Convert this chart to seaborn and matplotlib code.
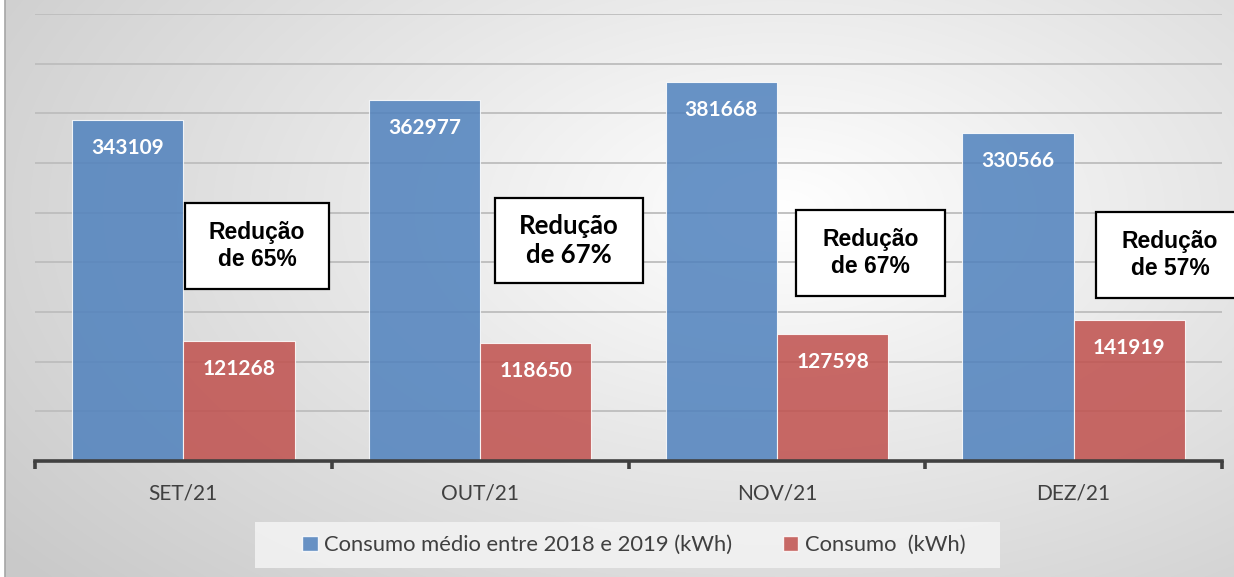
#!/usr/bin/env python3
"""
Consumo mensal vs consumo médio 2018-2019 (barras agrupadas)
"""

import numpy as np
import pandas as pd
import matplotlib.pyplot as plt
import seaborn as sns
from matplotlib.patches import Rectangle, Patch

# --- dados ---
meses = ['SET/21', 'OUT/21', 'NOV/21', 'DEZ/21']
consumo_medio = [343109, 362977, 381668, 330566]
consumo_atual = [121268, 118650, 127598, 141919]
reducoes = ['65%', '67%', '67%', '57%']
serie_medio = 'Consumo médio entre 2018 e 2019 (kWh)'
serie_atual = 'Consumo  (kWh)'

W, H = 1234, 577
DPI = 100


def fx(px):
    return px / W


def fy(py):
    return 1 - py / H


def main():
    sns.set_theme(style='white')
    plt.rcParams['font.family'] = ['Lato', 'DejaVu Sans']

    df = pd.DataFrame({
        'mes': meses * 2,
        'valor': consumo_medio + consumo_atual,
        'serie': [serie_medio] * len(meses) + [serie_atual] * len(meses),
    })

    fig = plt.figure(figsize=(W / DPI, H / DPI), dpi=DPI)

    # fundo com gradiente radial
    bg = fig.add_axes([0, 0, 1, 1], zorder=-10)
    xx, yy = np.meshgrid(np.arange(W), np.arange(H))
    r = np.sqrt(((xx - 780) / 980.0) ** 2 + ((yy - 210) / 560.0) ** 2)
    g = 1.0 - 0.21 * np.clip(r, 0, 1)
    img = np.dstack([g, g, g])
    img[:, :5, :] = 1.0
    bg.imshow(img, aspect='auto', extent=(0, W, H, 0), interpolation='bilinear')
    bg.plot([5, 5], [0, H], color='#a6a6a6', lw=1.2)
    bg.set_xlim(0, W)
    bg.set_ylim(H, 0)
    bg.axis('off')

    ax = fig.add_axes([fx(35), fy(461), fx(1222) - fx(35), fy(14) - fy(461)])
    ax.patch.set_alpha(0)

    for v in range(50000, 450001, 50000):
        ax.axhline(v, color='#bdbdbd', lw=1.3, zorder=0)

    sns.barplot(
        data=df, x='mes', y='valor', hue='serie',
        palette=['#4F81BD', '#C0504D'], saturation=1, width=0.75, alpha=0.85,
        edgecolor='white', linewidth=0.8, legend=False, ax=ax, zorder=2,
    )

    ax.set_xlim(-0.5, len(meses) - 0.5)
    ax.set_ylim(0, 450000)
    ax.set_xlabel('')
    ax.set_ylabel('')
    ax.set_yticks([])
    for s in ['top', 'right', 'left']:
        ax.spines[s].set_visible(False)
    ax.spines['bottom'].set_color('#404040')
    ax.spines['bottom'].set_linewidth(2.6)
    ax.spines['bottom'].set_zorder(3)

    ax.tick_params(axis='x', which='major', length=0, pad=16,
                   labelsize=15, labelcolor='#404040')
    ax.set_xticks(np.arange(-0.5, len(meses)), minor=True)
    ax.tick_params(axis='x', which='minor', length=6, width=2.6,
                   color='#404040', direction='out', bottom=True)

    # rótulos de valor dentro das barras
    for bar in ax.patches:
        h = bar.get_height()
        if h <= 0:
            continue
        ax.annotate(f'{int(round(h))}',
                    (bar.get_x() + bar.get_width() / 2, h),
                    xytext=(0, -28), textcoords='offset pixels',
                    ha='center', va='center', color='white',
                    fontsize=15, fontweight='bold', zorder=4)

    # caixas "Redução de XX%"
    caixas = [
        (185, 203, 329, 289, 'Liberation Sans', 16.5),
        (495, 198, 643, 283, 'Lato', 18.5),
        (796, 210, 945, 296, 'Liberation Sans', 16.5),
        (1096, 212, 1244, 298, 'Liberation Sans', 16.5),
    ]
    for (x0, y0, x1, y1, fam, fs), red in zip(caixas, reducoes):
        fig.patches.append(Rectangle((fx(x0), fy(y1)), fx(x1) - fx(x0),
                                     fy(y0) - fy(y1), transform=fig.transFigure,
                                     facecolor='white', edgecolor='black',
                                     lw=1.6, zorder=5))
        fig.text(fx((x0 + x1) / 2), fy((y0 + y1) / 2), f'Redução\nde {red}',
                 ha='center', va='center', fontsize=fs, fontweight='bold',
                 family=[fam, 'DejaVu Sans'], linespacing=1.25, zorder=6,
                 color='black')

    # legenda
    fig.patches.append(Rectangle((fx(255), fy(568)), fx(1000) - fx(255),
                                 fy(522) - fy(568), transform=fig.transFigure,
                                 facecolor='#f2f2f2', edgecolor='none',
                                 alpha=0.9, zorder=1))
    handles = [Patch(facecolor='#4F81BD', alpha=0.85, edgecolor='white', label=serie_medio),
               Patch(facecolor='#C0504D', alpha=0.85, edgecolor='white', label=serie_atual)]
    fig.legend(handles=handles, loc='center', bbox_to_anchor=(fx(634), fy(545)),
               ncol=2, frameon=False, fontsize=15.8, handlelength=0.7,
               handleheight=0.7, handletextpad=0.3, columnspacing=2.3,
               labelcolor='#404040')

    fig.savefig('out.png', dpi=DPI)
    plt.close(fig)


if __name__ == '__main__':
    main()
